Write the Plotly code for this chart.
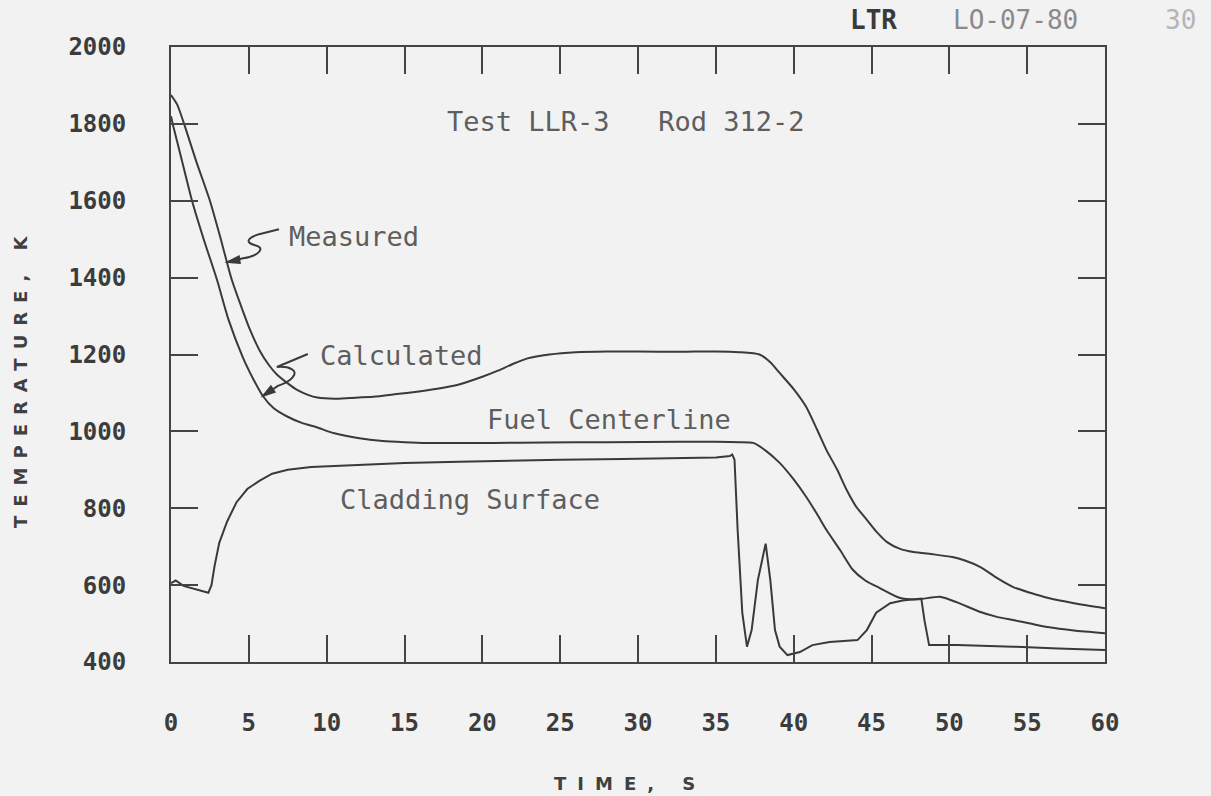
import plotly.graph_objects as go

# ---------------- data ----------------
meas_t = [0, 0.4, 0.9, 1.6, 2.5, 3.2, 3.9, 4.6, 5.1, 5.7, 6.3, 6.8, 7.5, 8.1, 8.8, 9.4,
          10.5, 11.5, 13.0, 14.5, 15.8, 17.0, 18.5, 20.0, 21.0, 22.0, 22.9, 24.3, 26.0,
          28.0, 30.0, 32.7, 35.0, 36.5, 37.8, 38.5, 39.1, 40.0, 40.8, 41.5, 42.1, 42.8,
          43.4, 44.0, 44.7, 45.3, 46.0, 46.8, 47.7, 49.0, 50.2, 51.0, 52.0, 53.0, 54.1,
          55.2, 56.3, 58.0, 60.0]
meas_T = [1875, 1850, 1793, 1705, 1600, 1500, 1395, 1315, 1262, 1210, 1172, 1148, 1125,
          1108, 1095, 1088, 1085, 1087, 1090, 1097, 1103, 1110, 1122, 1142, 1158, 1176,
          1190, 1200, 1206, 1208, 1208, 1207, 1208, 1206, 1200, 1180, 1152, 1110, 1064,
          1005, 952, 900, 848, 805, 770, 740, 712, 695, 686, 680, 673, 664, 647, 620,
          595, 580, 567, 553, 540]

calc_t = [0, 0.15, 0.7, 1.35, 2.1, 2.95, 3.7, 4.6, 5.3, 5.9, 6.6, 7.4, 8.4, 9.4, 10.5,
          12.1, 13.6, 15.0, 16.4, 18.0, 20.7, 24.0, 28.0, 32.7, 35.0, 36.5, 37.4, 38.2,
          39.1, 40.0, 40.8, 41.5, 42.1, 43.0, 43.8, 44.6, 45.5, 46.8, 48.0, 49.4, 50.5,
          52.0, 53.0, 54.1, 55.2, 56.3, 58.0, 60.0]
calc_T = [1820, 1793, 1705, 1600, 1500, 1395, 1290, 1194, 1135, 1092, 1060, 1040, 1022,
          1010, 995, 982, 975, 972, 970, 970, 970, 971, 972, 973, 973, 972, 970, 950,
          918, 875, 830, 785, 744, 690, 640, 612, 593, 567, 563, 570, 555, 530, 518,
          509, 500, 491, 482, 475]

clad_t = [0, 0.3, 0.8, 1.5, 2.0, 2.4, 2.6, 2.8, 3.1, 3.6, 4.2, 4.9, 5.7, 6.5, 7.5, 9.0,
          10.5, 12.0, 15.0, 18.5, 22.0, 25.0, 29.0, 32.5, 35.0, 35.9, 36.05, 36.2, 36.4,
          36.7, 37.0, 37.3, 37.7, 38.2, 38.5, 38.8, 39.1, 39.6, 40.4, 41.2, 42.3, 44.1,
          44.7, 45.3, 46.2, 47.0, 47.7, 48.2, 48.4, 48.7, 50.5, 52.5, 54.1, 57.0, 60.0]
clad_T = [605, 612, 598, 590, 584, 580, 600, 650, 710, 765, 815, 850, 872, 890, 900, 907,
          910, 913, 918, 921, 924, 926, 928, 930, 932, 936, 940, 926, 744, 528, 440, 483,
          613, 708, 613, 483, 440, 418, 426, 444, 452, 457, 483, 528, 553, 560, 564, 565,
          509, 444, 444, 442, 440, 435, 431]

x_ticks = [0, 5, 10, 15, 20, 25, 30, 35, 40, 45, 50, 55, 60]
y_ticks = [400, 600, 800, 1000, 1200, 1400, 1600, 1800, 2000]

# ---------------- styling ----------------
BG = "#f2f2f2"
INK = "#3a3a3a"
TXT = "#5e5e5e"
MONO = "DejaVu Sans Mono"

fig = go.Figure()
for t, T, shape in [(meas_t, meas_T, "spline"), (calc_t, calc_T, "spline"),
                    (clad_t, clad_T, "linear")]:
    fig.add_trace(go.Scatter(x=t, y=T, mode="lines", showlegend=False,
                             line=dict(color=INK, width=2, shape=shape, smoothing=0.6),
                             hoverinfo="skip"))

axis_common = dict(showgrid=False, zeroline=False, showline=True, linecolor="#444",
                   linewidth=2, mirror="ticks", ticks="inside", ticklen=27,
                   tickwidth=2, tickcolor="#444",
                   tickfont=dict(family=MONO, size=24, color="#3c3c3c", weight="bold"))

fig.update_xaxes(range=[0, 60], tickvals=x_ticks, ticktext=[str(v) for v in x_ticks],
                 ticklabelstandoff=38, **axis_common)
fig.update_yaxes(range=[400, 2000], tickvals=y_ticks, ticktext=[str(v) for v in y_ticks],
                 ticklabelstandoff=38, **axis_common)

ann_font = dict(family=MONO, size=27, color=TXT)
NB = "\u00a0"
annotations = [
    dict(x=29.2, y=1806, text="Test LLR-3" + NB * 3 + "Rod 312-2", xanchor="center"),
    dict(x=7.45, y=1507, text="Measured", xanchor="left"),
    dict(x=9.44, y=1197, text="Calculated", xanchor="left"),
    dict(x=20.2, y=1030, text="Fuel Centerline", xanchor="left"),
    dict(x=10.7, y=822, text="Cladding Surface", xanchor="left"),
]
for a in annotations:
    fig.add_annotation(xref="x", yref="y", showarrow=False, yanchor="middle",
                       font=ann_font, **a)

# axis titles (wide plotter lettering)
fig.add_annotation(xref="paper", yref="paper", x=(630 - 171) / 934, y=(662 - 783) / 615,
                   text='<span style="letter-spacing:11px">TIME, S</span>',
                   showarrow=False, xanchor="center", yanchor="middle",
                   font=dict(family="DejaVu Sans", size=18, color="#404040", weight="bold"))
fig.add_annotation(xref="paper", yref="paper", x=(20 - 171) / 934, y=(662 - 378) / 615,
                   text='<span style="letter-spacing:9px">TEMPERATURE, K</span>',
                   showarrow=False, xanchor="center", yanchor="middle", textangle=-90,
                   font=dict(family="DejaVu Sans", size=18, color="#404040", weight="bold"))

# document stamp at the top right
fig.add_annotation(xref="paper", yref="paper", x=(873 - 171) / 934, y=(662 - 20) / 615,
                   text="<b>LTR</b>", showarrow=False, xanchor="center", yanchor="middle",
                   font=dict(family=MONO, size=26, color="#3a3a3a"))
fig.add_annotation(xref="paper", yref="paper", x=(1015 - 171) / 934, y=(662 - 20) / 615,
                   text="LO-07-80", showarrow=False, xanchor="center", yanchor="middle",
                   font=dict(family=MONO, size=26, color="#8a8a8a"))
fig.add_annotation(xref="paper", yref="paper", x=(1180 - 171) / 934, y=(662 - 20) / 615,
                   text="30", showarrow=False, xanchor="center", yanchor="middle",
                   font=dict(family=MONO, size=26, color="#b5b5b5"))

# squiggly leader arrows (pixel paths anchored on the curves)
squiggles = [
    (3.6, 1440, "M52,33 L36,29 C22,26 16,20 28,17 C40,14 30,6 16,4 L0,0",
     "M0,0 L12,6 L13,-1 Z"),
    (5.9, 1092, "M45,42 L14,29 C26,30 36,26 30,19 C26,14 20,12 15,10 L0,0",
     "M0,0 L12,4 L8,10 Z"),
]
for ax_, ay_, p, head in squiggles:
    fig.add_shape(type="path", xref="x", yref="y", xsizemode="pixel", ysizemode="pixel",
                  xanchor=ax_, yanchor=ay_, path=p, line=dict(color=INK, width=2))
    fig.add_shape(type="path", xref="x", yref="y", xsizemode="pixel", ysizemode="pixel",
                  xanchor=ax_, yanchor=ay_, path=head, line=dict(color=INK, width=1.5),
                  fillcolor=INK)

fig.update_layout(width=1211, height=796, margin=dict(l=171, r=106, t=47, b=134),
                  paper_bgcolor=BG, plot_bgcolor=BG, showlegend=False)

fig.write_html("out.html")
